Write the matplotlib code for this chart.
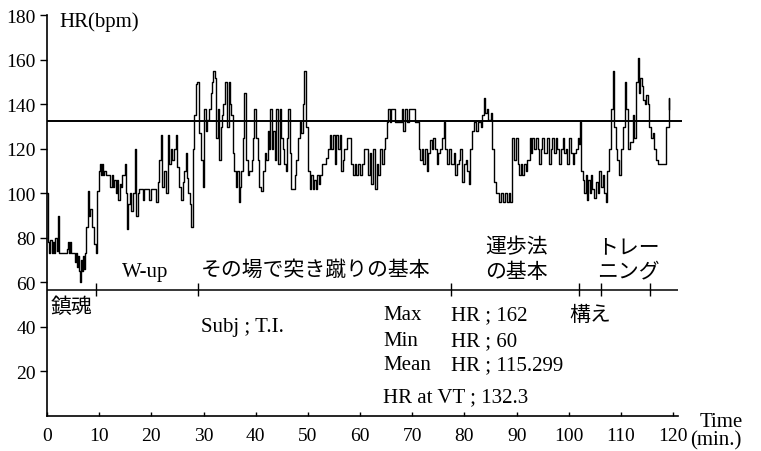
import matplotlib.pyplot as plt

# Heart rate record (minutes, bpm)
minutes = [
    0.0, 0.1, 0.4, 0.6, 0.9, 1.1, 1.4, 1.6, 1.9, 2.1, 2.2, 2.6, 3.0, 3.4, 3.8,
    4.0, 4.2, 4.4, 4.6, 5.1, 5.3, 5.5, 5.7, 5.9, 6.1, 6.3, 6.5, 6.7, 6.9, 7.1,
    7.3, 7.5, 7.8, 8.0, 8.3, 8.6, 9.0, 9.3, 9.6, 9.9, 10.1, 10.3, 10.5, 10.7,
    11.0, 11.3, 11.9, 12.1, 12.4, 12.7, 12.9, 13.2, 13.4, 13.6, 13.9, 14.1,
    14.4, 14.9, 15.1, 15.3, 15.6, 15.9, 16.1, 16.4, 16.9, 17.1, 17.4, 17.6,
    18.0, 18.3, 18.6, 19.2, 19.5, 19.9, 20.4, 20.8, 21.2, 21.5, 21.8, 22.1,
    22.4, 22.8, 23.1, 23.4, 23.7, 24.0, 24.4, 24.7, 25.0, 25.3, 25.6, 26.0,
    26.3, 26.6, 26.9, 27.1, 27.4, 27.6, 27.9, 28.2, 28.5, 28.8, 29.2, 29.5,
    29.8, 30.1, 30.4, 30.7, 31.0, 31.4, 31.7, 31.9, 32.1, 32.4, 32.7, 33.0,
    33.3, 33.6, 33.8, 34.1, 34.4, 34.8, 35.0, 35.3, 35.6, 35.9, 36.2, 36.5,
    36.7, 37.0, 37.2, 37.5, 37.8, 38.1, 38.5, 38.8, 39.2, 39.5, 39.7, 40.1,
    40.4, 40.7, 41.0, 41.3, 41.7, 42.0, 42.3, 42.6, 42.8, 43.1, 43.4, 43.6,
    43.9, 44.2, 44.6, 44.9, 45.2, 45.5, 45.8, 46.0, 46.2, 46.5, 46.8, 47.2,
    47.5, 47.8, 48.1, 48.4, 48.7, 49.0, 49.2, 49.6, 50.0, 50.3, 50.6, 50.9,
    51.2, 51.5, 51.8, 52.1, 52.4, 52.6, 53.2, 53.5, 53.8, 54.2, 54.5, 54.8,
    55.1, 55.4, 55.8, 56.1, 56.4, 56.7, 57.0, 57.4, 58.0, 58.3, 58.6, 59.0,
    59.3, 59.6, 59.9, 60.3, 60.7, 61.2, 61.5, 61.8, 62.1, 62.5, 62.8, 63.2,
    63.5, 63.8, 64.1, 64.5, 64.8, 65.1, 65.4, 65.7, 66.0, 66.4, 66.7, 67.0,
    67.5, 68.0, 68.3, 68.6, 69.0, 69.4, 70.0, 70.6, 70.9, 71.2, 71.5, 71.8,
    72.1, 72.5, 72.8, 73.1, 73.4, 73.7, 74.0, 74.4, 74.7, 75.0, 75.4, 75.7,
    76.0, 76.3, 76.6, 77.0, 77.4, 77.9, 78.2, 78.6, 79.0, 79.2, 79.5, 79.9,
    80.2, 80.5, 80.8, 81.1, 81.5, 81.8, 82.2, 82.6, 83.1, 83.4, 83.8, 84.0,
    84.3, 84.6, 85.0, 85.3, 85.7, 86.0, 86.3, 86.6, 87.0, 87.4, 87.8, 88.2,
    88.5, 88.8, 89.1, 89.5, 89.9, 90.2, 90.4, 90.8, 91.1, 91.4, 91.7, 92.0,
    92.5, 92.8, 93.0, 93.4, 93.7, 94.0, 94.3, 94.6, 94.9, 95.2, 95.6, 95.9,
    96.2, 96.5, 96.8, 97.2, 97.5, 97.8, 98.1, 98.4, 98.8, 99.1, 99.4, 99.7,
    100.0, 100.4, 100.7, 101.0, 101.3, 101.7, 102.0, 102.2, 102.4, 102.7,
    102.9, 103.2, 103.4, 103.7, 104.0, 104.2, 104.5, 104.8, 105.2, 105.5,
    105.8, 106.1, 106.5, 106.8, 107.1, 107.4, 107.7, 108.1, 108.4, 108.7,
    109.0, 109.3, 109.7, 110.0, 110.3, 110.7, 111.0, 111.3, 111.8, 112.2,
    112.5, 112.9, 113.2, 113.5, 113.7, 114.0, 114.2, 114.5, 114.8, 115.1,
    115.4, 115.7, 116.1, 116.4, 116.7, 117.0, 118.3, 118.6, 119.1, 119.2,
]
hr = [
    100, 78, 73, 79, 73, 78, 73, 80, 74, 90, 73, 73, 73, 73, 75,
    78, 73, 78, 73, 73, 69, 73, 67, 72, 65, 60, 70, 65, 72, 66,
    73, 85, 101, 90, 93, 85, 77, 73, 101, 110, 113, 108, 113, 108,
    110, 108, 108, 103, 108, 103, 106, 100, 106, 97, 104, 103,
    108, 113, 100, 84, 95, 100, 92, 100, 120, 90, 100, 102,
    102, 97, 102, 102, 97, 102, 102, 96, 105, 115, 126, 103,
    110, 100, 126, 113, 120, 115, 120, 126, 112, 103, 97, 105,
    110, 118, 107, 100, 95, 85, 120, 135, 149, 150, 127, 115,
    103, 138, 128, 133, 138, 145, 150, 155, 152, 125, 138, 115,
    130, 135, 140, 150, 130, 150, 140, 135, 118, 110, 103, 110,
    96, 103, 110, 125, 145, 115, 108, 110, 115, 125, 138, 125,
    115, 103, 101, 110, 118, 115, 128, 120, 138, 120, 128, 115,
    138, 113, 138, 125, 120, 113, 110, 125, 138, 118, 102, 102,
    108, 115, 125, 132, 127, 140, 155, 130, 110, 102, 108, 102,
    106, 102, 108, 104, 108, 113, 113, 116, 120, 126, 120, 126,
    113, 126, 120, 126, 110, 115, 120, 125, 125, 113, 108, 113,
    108, 113, 108, 113, 120, 120, 108, 118, 104, 120, 102, 113,
    108, 120, 113, 120, 125, 132, 138, 132, 138, 138, 132, 132,
    132, 138, 128, 138, 132, 138, 138, 132, 132, 120, 115, 120,
    113, 120, 110, 118, 124, 120, 125, 120, 113, 118, 120, 125,
    132, 120, 113, 120, 113, 118, 108, 113, 115, 120, 105, 113,
    115, 110, 104, 120, 128, 132, 128, 132, 130, 135, 143, 136,
    138, 133, 136, 120, 105, 100, 100, 96, 100, 96, 100, 96,
    100, 96, 125, 115, 125, 113, 108, 113, 108, 113, 110, 115,
    125, 118, 125, 120, 125, 120, 113, 120, 125, 118, 118, 125,
    113, 120, 125, 118, 125, 120, 113, 120, 125, 118, 120, 113,
    125, 118, 113, 118, 120, 125, 122, 132, 110, 106,
    100, 108, 97, 106, 100, 108, 102, 98, 105, 100,
    110, 103, 108, 100, 96, 110, 120, 138, 155, 130,
    120, 115, 108, 120, 130, 150, 138, 120, 123, 135,
    125, 150, 161, 145, 152, 148, 142, 140, 144, 140,
    130, 125, 127, 120, 115, 113, 113, 130, 143, 138,
]

hr_at_vt = 132.3
stats = [('Max', 'HR ; 162'), ('Min', 'HR ; 60'), ('Mean', 'HR ; 115.299')]
phase_marks = [9.3, 29.0, 77.5, 102.0, 106.2, 115.5]
x_ticks = list(range(0, 121, 10))
y_ticks = list(range(20, 181, 20))

serif = ['Liberation Serif', 'DejaVu Serif']
jp = ['Noto Sans CJK JP', 'DejaVu Sans']

fig = plt.figure(figsize=(7.61, 4.52), dpi=100)
ax = fig.add_axes([0.0618, 0.078, 0.8297, 0.886])

ax.plot(minutes, hr, color='black', linewidth=1.0, drawstyle='steps-post')

# HR at VT line runs a little past the axis
ax.hlines(hr_at_vt, 0, 121.6, color='black', linewidth=1.4, clip_on=False)

# phase divider with boundary marks
divider = 56.3
ax.axhline(divider, color='black', linewidth=1.1)
ax.vlines(phase_marks, divider - 2.3, divider + 3.2, color='black', linewidth=1.0)

ax.set_xlim(0, 121)
ax.set_ylim(0, 180)
ax.spines['top'].set_visible(False)
ax.spines['right'].set_visible(False)
ax.spines['left'].set_linewidth(1.2)
ax.spines['bottom'].set_linewidth(1.2)

ax.set_xticks(x_ticks)
ax.set_yticks(y_ticks)
ax.tick_params(axis='x', direction='in', length=3, width=1, pad=8)
ax.tick_params(axis='y', direction='out', length=5, width=1, pad=3)
for lab in ax.get_xticklabels() + ax.get_yticklabels():
    lab.set_family(serif)
    lab.set_fontsize(14)

# labels
ax.text(2.4, 175.3, 'HR(bpm)', family=serif, fontsize=15, va='baseline')
ax.text(14.3, 62.9, 'W-up', family=serif, fontsize=15, va='baseline')
ax.text(29.5, 65.8, 'その場で突き蹴りの基本', family=jp, fontsize=15, va='center')
ax.text(83.9, 76.1, '運歩法', family=jp, fontsize=15, va='center')
ax.text(83.9, 65.2, 'の基本', family=jp, fontsize=15, va='center')
ax.text(105.4, 76.4, 'トレー', family=jp, fontsize=15, va='center')
ax.text(105.4, 65.2, 'ニング', family=jp, fontsize=15, va='center')
ax.text(0.6, 49.4, '鎮魂', family=jp, fontsize=15, va='center')
ax.text(100.0, 45.7, '構え', family=jp, fontsize=15, va='center')
ax.text(29.6, 38.2, 'Subj ; T.I.', family=serif, fontsize=15, va='baseline')

for (name, val), y in zip(stats, [43.4, 31.9, 21.0]):
    ax.text(64.4, y, name, family=serif, fontsize=15, va='baseline')
    ax.text(77.4, y, val, family=serif, fontsize=15, va='baseline')
ax.text(64.4, 6.7, f'HR at VT ; {hr_at_vt}', family=serif, fontsize=15,
        va='baseline')

ax.text(125.1, -4.5, 'Time', family=serif, fontsize=15, va='baseline',
        clip_on=False)
ax.text(123.2, -12.7, '(min.)', family=serif, fontsize=15, va='baseline',
        clip_on=False)

fig.savefig('out.png', dpi=100)
